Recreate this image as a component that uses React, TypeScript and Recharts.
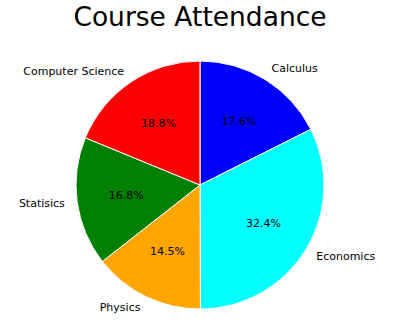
import { PieChart, Pie, Cell } from "recharts";

const courses = ["Calculus", "Economics", "Physics", "Statisics", "Computer Science"];
const attendance = [17.6, 32.4, 14.5, 16.8, 18.8];
const colors = ["#0000ff", "#00ffff", "#ffa500", "#008000", "#ff0000"];

const data = courses.map((name, i) => ({ name, value: attendance[i] }));

const RADIAN = Math.PI / 180;
const FONT = "'DejaVu Sans', sans-serif";

// eslint-disable-next-line @typescript-eslint/no-explicit-any
const renderLabel = (props: any) => {
  const { cx, cy, midAngle, outerRadius, percent, name } = props;
  const cos = Math.cos(-midAngle * RADIAN);
  const sin = Math.sin(-midAngle * RADIAN);
  const lr = outerRadius * 1.1;
  const pr = outerRadius * 0.6;
  return (
    <g>
      <text
        x={cx + lr * cos}
        y={cy + lr * sin}
        textAnchor={cos >= 0 ? "start" : "end"}
        dominantBaseline="central"
        fill="#000"
        fontSize={11}
        fontFamily={FONT}>
        {name}
      </text>
      <text
        x={cx + pr * cos}
        y={cy + pr * sin}
        textAnchor="middle"
        dominantBaseline="central"
        fill="#000"
        fontSize={11}
        fontFamily={FONT}>
        {(percent * 100).toFixed(1)}%
      </text>
    </g>
  );
};

export default function App() {
  return (
    <div style={{ position: "fixed", left: 0, top: 0, width: 400, height: 325, background: "#fff" }}>
      <div
        style={{
          position: "absolute",
          left: 0,
          top: 0,
          width: 400,
          textAlign: "center",
          fontFamily: FONT,
          fontSize: 26.5,
          lineHeight: "33px",
          color: "#000",
        }}>
        Course Attendance
      </div>
      <PieChart width={400} height={325} margin={{ top: 0, right: 0, bottom: 0, left: 0 }}>
        <Pie
          data={data}
          dataKey="value"
          nameKey="name"
          cx={200}
          cy={185}
          outerRadius={124}
          startAngle={90}
          endAngle={-270}
          stroke="#fff"
          strokeWidth={1}
          label={renderLabel}
          labelLine={false}
          isAnimationActive={false}>
          {data.map((d, i) => (
            <Cell key={d.name} fill={colors[i]} />
          ))}
        </Pie>
      </PieChart>
    </div>
  );
}
